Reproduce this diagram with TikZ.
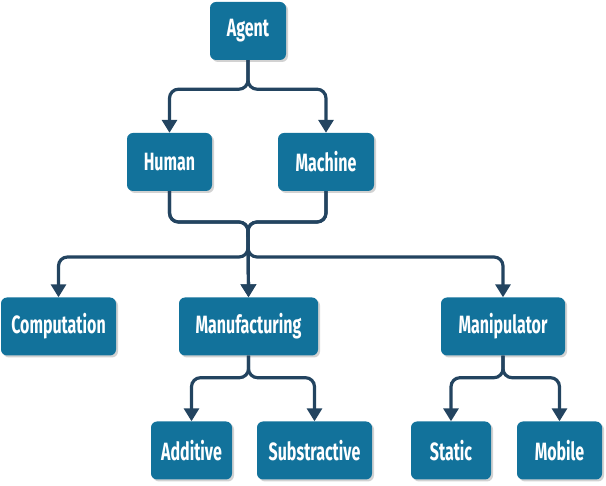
\documentclass[tikz,border=0pt]{standalone}
\usepackage{fontspec}
\newfontfamily\boxfont[FakeStretch=0.64]{Fira Sans}
\usetikzlibrary{positioning, calc, arrows.meta, shadows}
\definecolor{boxblue}{RGB}{18,114,155}
\definecolor{linkblue}{RGB}{35,68,96}

\begin{document}
\begin{tikzpicture}[x=1pt, y=-1pt,
    box/.style={rectangle, rounded corners=6pt, fill=boxblue, text=white,
      minimum height=58pt, inner sep=0pt,
      font=\boxfont\bfseries\fontsize{25}{27}\selectfont,
      drop shadow={shadow xshift=2pt, shadow yshift=-2pt, fill=black!35, opacity=0.5}},
    link/.style={draw=linkblue, line width=3.2pt, rounded corners=9pt,
      -{Triangle[width=15pt,length=13pt]}}]

  \useasboundingbox (0,0) rectangle (606,486);

  % tree levels
  \node[box, minimum width=76pt]  (agent)   at (248,31)  {Agent};
  \node[box, minimum width=85pt]  (human)   at (169.5,162) {Human};
  \node[box, minimum width=96pt]  (machine) at (326,162) {Machine};

  \node[box, minimum width=115pt] (computation)   at (58.5,326.5)  {Computation};
  \node[box, minimum width=139pt] (manufacturing) at (248.5,326.5) {Manufacturing};
  \node[box, minimum width=124pt] (manipulator)   at (503,326.5)   {Manipulator};

  \node[box, minimum width=81pt]  (additive)     at (191.5,450.5) {Additive};
  \node[box, minimum width=115pt] (substractive) at (314.5,450.5) {Substractive};
  \node[box, minimum width=80pt]  (static)       at (451,450.5)   {Static};
  \node[box, minimum width=85pt]  (mobile)       at (559.5,450.5) {Mobile};

  \coordinate (hm) at (248,222);
  \coordinate (split) at (248,257);

  % connectors
  \draw[link] (agent.south) -- ++(0,29) -| (human.north);
  \draw[link] (agent.south) -- ++(0,29) -| (machine.north);

  \draw[link] (human.south) |- (hm) -- (split) -| (computation.north);
  \draw[link] (machine.south) |- (hm) -- (split) -| (manipulator.north);
  \draw[link] (human.south) |- (hm) -- (manufacturing.north);
  \draw[link] (machine.south) |- (hm) -- (manufacturing.north);

  \draw[link] (manufacturing.south) -- ++(0,22) -| (additive.north);
  \draw[link] (manufacturing.south) -- ++(0,22) -| (substractive.north);
  \draw[link] (manipulator.south) -- ++(0,22) -| (static.north);
  \draw[link] (manipulator.south) -- ++(0,22) -| (mobile.north);
\end{tikzpicture}
\end{document}
